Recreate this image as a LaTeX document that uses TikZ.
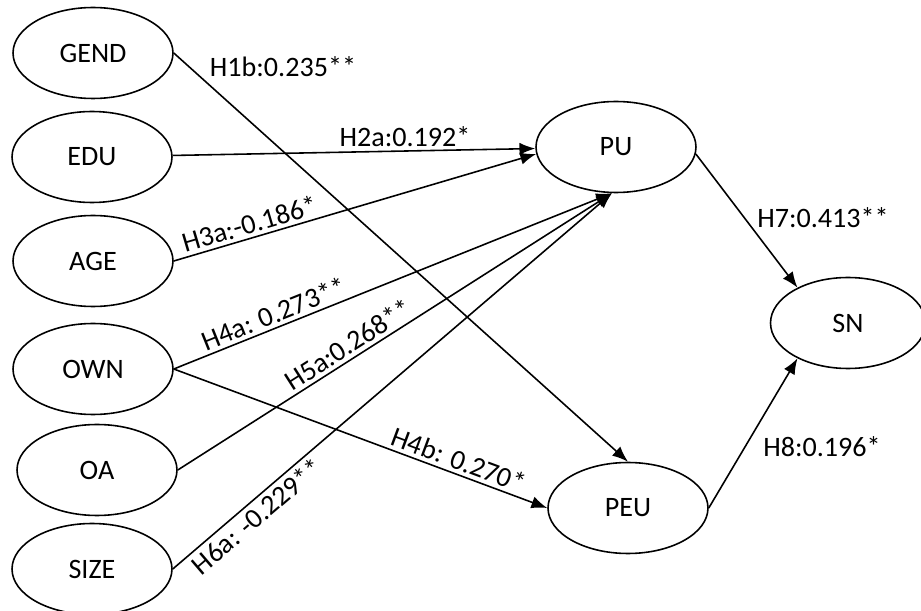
\documentclass[tikz,border=0pt]{standalone}
\usepackage{fontspec}
\setmainfont{Carlito}
\usetikzlibrary{arrows.meta,shapes.geometric}

\begin{document}
\begin{tikzpicture}[->,>={Latex[length=9pt,width=7pt]},line width=0.9pt,
  x=0.02cm,y=-0.02cm,font=\fontsize{16}{19}\selectfont,
  var/.style={draw,-,ellipse,minimum width=3.2cm,minimum height=1.82cm,inner sep=0pt},
  coef/.style={sloped,inner sep=2pt}]

\useasboundingbox (0,0) rectangle (921,611);

\node [var] (gend) at (93,53) {GEND};
\node [var] (edu) at (92,157) {EDU};
\node [var] (age) at (93,261) {AGE};
\node [var] (own) at (93,369) {OWN};
\node [var] (oa) at (97,470) {OA};
\node [var] (size) at (92,569) {SIZE};

\node [var] (pu) at (616,147) {PU};
\node [var] (peu) at (628,508) {PEU};
\node [var,minimum width=3.1cm] (sn) at (848,323) {SN};

\node (h1b) at (283,67) {H1b:0.235**};
\node (h2a) at (405,137) {H2a:0.192*};
\node (h7) at (823,218) {H7:0.413**};
\node (h8) at (822,447) {H8:0.196*};

\draw (gend.east) -- (peu.north);
\draw (edu) -- (pu);
\draw (age.east) -- (pu.185)
    node [coef,above,pos=0.22] (h3a) {H3a:-0.186*};
\draw (own.east) -- (pu.265)
    node [coef,above,pos=0.24] (h4a) {H4a: 0.273**};
\draw (oa.east) -- (pu.265)
    node [coef,above,pos=0.41] (h5a) {H5a:0.268**};
\draw (size.east) -- (pu.265)
    node [coef,below,pos=0.17] (h6a) {H6a: -0.229**};
\draw (own.east) -- (peu.west)
    node [coef,above,pos=0.75] (h4b) {H4b: 0.270*};

\draw (pu.-5) -- (sn.145);
\draw (peu.east) -- (sn.215);

\end{tikzpicture}
\end{document}
